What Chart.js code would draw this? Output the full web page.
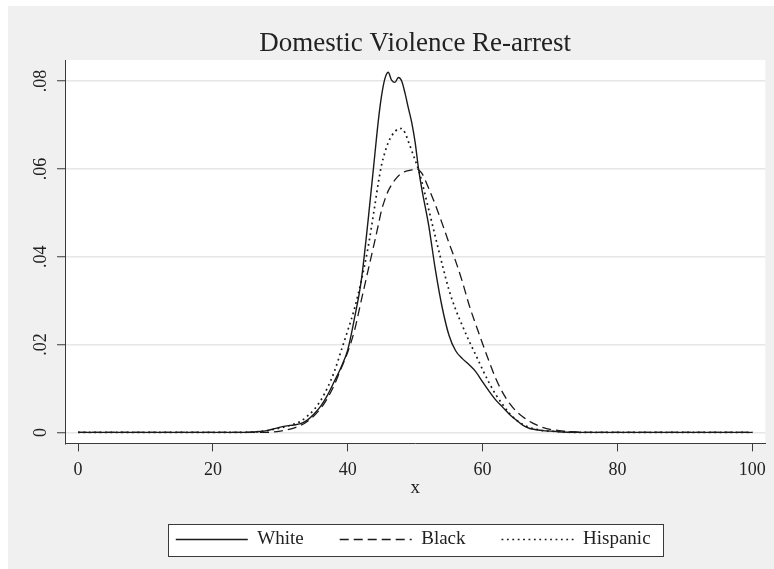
<!DOCTYPE html>
<html>
<head>
<meta charset="utf-8">
<script src="https://cdn.jsdelivr.net/npm/chart.js@4.4.1/dist/chart.umd.min.js"></script>
<style>
  html, body { margin: 0; padding: 0; background: #ffffff; }
  #c { position: absolute; left: 8px; top: 6px; background: #f0f0f0; }
</style>
</head>
<body>
<canvas id="c" width="766" height="563"></canvas>
<script>
// ---- Data ----
const xs = [0,5,10,15,20,24,26,27,28,29,30,31,32,33,34,35,36,37,38,39,40,41,42,43,44,
  44.5,45,45.5,46,46.5,47,47.5,48,48.5,49,49.5,50,50.5,51,
  52,53,54,55,56,57,58,59,60,61,62,63,64,65,66,67,68,69,70,71,72,
  74,76,80,85,90,95,100];

const white = [0,0,0,0,0,0,
  0.0001,0.0002,0.0004,0.0008,0.0012,0.0015,0.0017,0.0020,0.0028,0.0042,0.0060,0.0085,0.0116,0.0148,0.0188,0.0260,0.0345,0.0480,0.0630,
  0.0705,0.0765,0.0805,0.0820,0.0802,0.0797,0.0808,0.0800,0.0772,0.0738,0.0705,0.0660,0.0600,0.0553,
  0.0472,0.0370,0.0285,0.0222,0.0186,0.0168,0.0154,0.0138,0.0115,0.0093,0.0073,0.0057,0.0041,0.0028,0.0016,0.0009,0.0006,0.0004,0.0003,0.0002,0.0001,
  0,0,0,0,0,0,0];

const black = [0,0,0,0,0,0,
  0,0,0,0.0001,0.0003,0.0006,0.0010,0.0016,0.0025,0.0038,0.0055,0.0078,0.0108,0.0145,0.0183,0.0232,0.0300,0.0368,0.0435,
  0.0470,0.0505,0.0530,0.0550,0.0564,0.0575,0.0584,0.0590,0.0594,0.0596,0.0598,0.0600,0.0598,0.0590,
  0.0556,0.0518,0.0476,0.0432,0.0390,0.0343,0.0290,0.0245,0.0202,0.0160,0.0121,0.0090,0.0066,0.0048,0.0035,0.0025,0.0017,0.0011,0.0007,0.0005,0.0003,
  0.0001,0,0,0,0,0,0];

const hispanic = [0,0,0,0,0,0,
  0.0001,0.0002,0.0004,0.0007,0.0010,0.0014,0.0019,0.0025,0.0037,0.0052,0.0073,0.0102,0.0138,0.0185,0.0232,0.0282,0.0345,0.0420,0.0515,
  0.0565,0.0608,0.0637,0.0660,0.0675,0.0685,0.0691,0.0692,0.0682,0.0662,0.0641,0.0620,0.0598,0.0570,
  0.0508,0.0445,0.0383,0.0325,0.0280,0.0243,0.0208,0.0176,0.0143,0.0112,0.0085,0.0063,0.0043,0.0028,0.0018,0.0011,0.0007,0.0004,0.0003,0.0002,0.0001,
  0,0,0,0,0,0,0];

const seriesNames = ['White', 'Black', 'Hispanic'];
const xTicks = [0, 20, 40, 60, 80, 100];
const yTicks = [0, 0.02, 0.04, 0.06, 0.08];
const yTickLabels = ['0', '.02', '.04', '.06', '.08'];
const chartTitle = 'Domestic Violence Re-arrest';
const xTitle = 'x';

// ---- Chart ----
const FONT = 'Liberation Serif, Times New Roman, serif';
const toPts = ys => xs.map((x, i) => ({ x: x, y: ys[i] }));

const plotBg = {
  id: 'plotBg',
  beforeDraw(chart) {
    const { ctx, chartArea: a } = chart;
    ctx.save();
    ctx.fillStyle = '#ffffff';
    ctx.fillRect(a.left, a.top, a.right - a.left, a.bottom - a.top);
    ctx.restore();
  }
};

const legendShift = {
  id: 'legendShift',
  afterLayout(chart) {
    const lg = chart.legend;
    if (lg) { lg.left -= 2; lg.right -= 2; }
  }
};

function legendBounds(chart) {
  const lg = chart.legend;
  if (!lg || !lg.legendHitBoxes || !lg.legendHitBoxes.length) return null;
  const hb = lg.legendHitBoxes;
  const first = hb[0], last = hb[hb.length - 1];
  const left = Math.round(first.left - 8);
  const right = Math.round(last.left + last.width + 12);
  const cy = first.top + first.height / 2;
  const top = Math.round(cy - 16);
  return { left, right, top, bottom: top + 32 };
}

const legendBox = {
  id: 'legendBox',
  beforeDraw(chart) {
    const b = legendBounds(chart);
    if (!b) return;
    const ctx = chart.ctx;
    ctx.save();
    ctx.fillStyle = '#ffffff';
    ctx.fillRect(b.left, b.top, b.right - b.left, b.bottom - b.top);
    ctx.restore();
  },
  afterDraw(chart) {
    const b = legendBounds(chart);
    if (!b) return;
    const ctx = chart.ctx;
    ctx.save();
    ctx.strokeStyle = '#3a3a3a';
    ctx.lineWidth = 1;
    ctx.strokeRect(b.left + 0.5, b.top + 0.5, b.right - b.left, b.bottom - b.top);
    ctx.restore();
  }
};

new Chart(document.getElementById('c'), {
  type: 'line',
  data: {
    datasets: [
      { label: seriesNames[0], data: toPts(white), borderColor: '#1a1a1a', borderWidth: 1.4, borderDash: [], pointRadius: 0, cubicInterpolationMode: 'monotone', fill: false },
      { label: seriesNames[1], data: toPts(black), borderColor: '#1a1a1a', borderWidth: 1.3, borderDash: [9, 5], pointRadius: 0, cubicInterpolationMode: 'monotone', fill: false },
      { label: seriesNames[2], data: toPts(hispanic), borderColor: '#1a1a1a', borderWidth: 1.7, borderDash: [1.8, 3.6], pointRadius: 0, cubicInterpolationMode: 'monotone', fill: false }
    ]
  },
  options: {
    responsive: false,
    animation: false,
    devicePixelRatio: 1,
    layout: { padding: { left: 0, right: 8, top: 0, bottom: 10 } },
    scales: {
      x: {
        type: 'linear',
        min: -1.93,
        max: 101.93,
        afterBuildTicks: s => { s.ticks = xTicks.map(v => ({ value: v })); },
        grid: { drawOnChartArea: false, drawTicks: true, tickLength: 8, tickColor: '#3a3a3a', tickWidth: 1 },
        border: { display: true, color: '#3a3a3a', width: 1 },
        ticks: { maxRotation: 0, minRotation: 0, padding: 8, color: '#222', font: { family: FONT, size: 18 } },
        title: { display: true, text: xTitle, color: '#222', font: { family: FONT, size: 19, lineHeight: 1 }, padding: { top: -10, bottom: -4 } }
      },
      y: {
        type: 'linear',
        min: -0.0025,
        max: 0.0848,
        afterBuildTicks: s => { s.ticks = yTicks.map(v => ({ value: v })); },
        afterFit: s => { s.width = 57; },
        grid: { color: '#e6e6e6', lineWidth: 1.5, drawTicks: true, tickLength: 8, tickColor: '#3a3a3a', tickWidth: 1 },
        border: { display: true, color: '#3a3a3a', width: 1 },
        ticks: {
          minRotation: 90, maxRotation: 90, crossAlign: 'center', padding: 4,
          color: '#222', font: { family: FONT, size: 18 },
          callback: v => { const i = yTicks.findIndex(t => Math.abs(t - v) < 1e-9); return i >= 0 ? yTickLabels[i] : ''; }
        }
      }
    },
    plugins: {
      title: {
        display: true, text: chartTitle, fullSize: false, color: '#222',
        font: { family: FONT, size: 27, weight: 'normal', lineHeight: 1.2 },
        padding: { top: 21.6, bottom: 0 }
      },
      legend: {
        position: 'bottom', fullSize: false,
        labels: {
          usePointStyle: true, pointStyle: 'line', pointStyleWidth: 72,
          color: '#222', font: { family: FONT, size: 19 }, padding: 36,
          generateLabels: chart => {
            const items = Chart.defaults.plugins.legend.labels.generateLabels(chart);
            items.forEach(it => {
              const ds = chart.data.datasets[it.datasetIndex];
              it.lineDash = ds.borderDash;
              it.lineWidth = ds.borderWidth;
              it.strokeStyle = ds.borderColor;
            });
            return items;
          }
        }
      },
      tooltip: { enabled: false }
    }
  },
  plugins: [plotBg, legendShift, legendBox]
});
</script>
</body>
</html>
